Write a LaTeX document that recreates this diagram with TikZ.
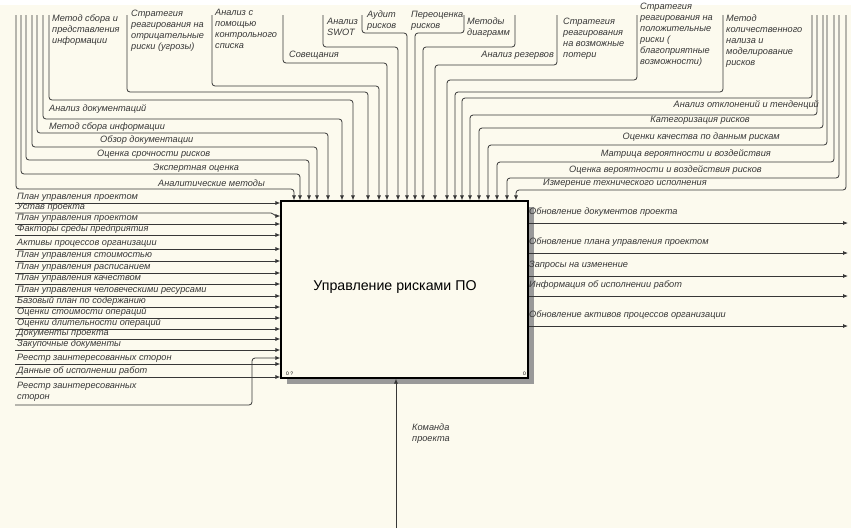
\documentclass[tikz,border=0pt]{standalone}
\usepackage{fontspec}
\setmainfont{Liberation Sans}
\usetikzlibrary{arrows.meta}

\definecolor{paper}{RGB}{252,250,238}
\definecolor{ink}{RGB}{55,55,55}

\tikzset{
  lbl/.style={font=\fontsize{9.2}{11}\selectfont\itshape, text=ink, inner sep=0pt, align=left},
  flow/.style={draw=ink, line width=0.8pt, rounded corners=3pt},
  tip/.style={-{Latex[length=5pt,width=4pt]}},
  fnbox/.style={draw=black, line width=1.1pt, fill=paper, inner sep=0pt,
    minimum width=247pt, minimum height=177pt},
}

\begin{document}
\begin{tikzpicture}[x=1pt,y=-1pt]
\useasboundingbox (0,0) rectangle (851,528);
\fill[paper] (0,0) rectangle (851,528);
\fill[white] (0,0) rectangle (851,5);
%
% activity box with its shadow
\fill[black!40] (287,207) rectangle (534,384);
\node[fnbox] (act) at (404.5,289.5) {};
\node[font=\fontsize{14.2}{16}\selectfont] (ttl) at (395,287) {Управление рисками ПО};
\node[font=\fontsize{5}{5}\selectfont, anchor=south west, inner sep=0pt] (nl) at (286,376) {0 ?};
\node[font=\fontsize{5}{5}\selectfont, anchor=south east, inner sep=0pt] (nr) at (526,376) {0};
%
% controls
\foreach \i/\sx/\hy/\ex in {1/16/189/294, 2/21/174/300, 3/26/160/309, 4/32/147/317,
    5/37/133/328, 6/43/119/342, 7/49/100/353, 8/127/92/368, 9/212/86/379,
    10/283/63/387, 11/323/47/398, 12/362/33/407, 13/464/33/415, 14/515/47/423,
    15/557/65/435, 16/637/80/447, 17/723/92/455, 18/812/98/462, 19/817/115/470,
    20/823/128/479, 21/827/145/488, 22/834/162/497, 23/839/178/507, 24/846/190/516}{
  \coordinate (c\i) at (\sx,15);
  \draw[flow, tip] (c\i) -- (\sx,\hy) -- (\ex,\hy) -- (\ex,0 |- act.north);
}
%
\node[lbl, anchor=north west] (tA) at (52,15) {Метод сбора и\\представления\\информации};
\node[lbl, anchor=north west] (tB) at (131,10) {Стратегия\\реагирования на\\отрицательные\\риски (угрозы)};
\node[lbl, anchor=north west] (tC) at (215,9) {Анализ с\\помощью\\контрольного\\списка};
\node[lbl, anchor=west] (tD) at (289,55) {Совещания};
\node[lbl, anchor=north west] (tE) at (327,18) {Анализ\\SWOT};
\node[lbl, anchor=north west] (tF) at (367,11) {Аудит\\рисков};
\node[lbl, anchor=north west] (tG) at (411,11) {Переоценка\\рисков};
\node[lbl, anchor=north west] (tH) at (467,18) {Методы\\диаграмм};
\node[lbl, anchor=east] (tI) at (554,55) {Анализ резервов};
\node[lbl, anchor=north west] (tJ) at (563,18) {Стратегия\\реагирования\\на возможные\\потери};
\node[lbl, anchor=north west] (tK) at (640,3) {Стратегия\\реагирования на\\положительные\\риски (\\благоприятные\\возможности)};
\node[lbl, anchor=north west] (tL) at (726,15) {Метод\\количественного\\нализа и\\моделирование\\рисков};
%
\node[lbl, anchor=west] (lA) at (49,109) {Анализ документаций};
\node[lbl, anchor=west] (lB) at (49,127) {Метод сбора информации};
\node[lbl, anchor=west] (lC) at (100,140) {Обзор документации};
\node[lbl, anchor=west] (lD) at (97,154) {Оценка срочности рисков};
\node[lbl, anchor=west] (lE) at (153,168) {Экспертная оценка};
\node[lbl, anchor=west] (lF) at (158,183) {Аналитические методы};
%
\node[lbl, anchor=east] (rA) at (819,105) {Анализ отклонений и тенденций};
\node[lbl, anchor=east] (rB) at (750,120) {Категоризация рисков};
\node[lbl, anchor=east] (rC) at (780,137) {Оценки качества по данным рискам};
\node[lbl, anchor=east] (rD) at (771,154) {Матрица вероятности и воздействия};
\node[lbl, anchor=east] (rE) at (762,170) {Оценка вероятности и воздействия рисков};
\node[lbl, anchor=west] (rF) at (543,183) {Измерение технического исполнения};
%
% inputs
\foreach \y/\txt in {203/План управления проектом, 224/План управления проектом,
    235/Факторы среды предприятия, 249/Активы процессов организации,
    261/План управления стоимостью, 273/План управления расписанием,
    284/План управления качеством, 296/План управления человеческими ресурсами,
    307/Базовый план по содержанию, 318/Оценки стоимости операций,
    329/Оценки длительности операций, 339/Документы проекта,
    350/Закупочные документы, 364/Реестр заинтересованных сторон,
    377/Данные об исполнении работ}{
  \coordinate (i\y) at (15,\y);
  \draw[flow, tip] (i\y) -- (act.west |- 0,\y);
  \node[lbl, anchor=south west] (li\y) at (17,\y-1.5) {\txt};
}
\coordinate (iUst) at (15,213);
\draw[flow, tip] (iUst) -- (268,213) to[out=0,in=180] (act.west |- 0,216);
\node[lbl, anchor=south west] (liUst) at (17,212) {Устав проекта};
\coordinate (iReg) at (15,405);
\draw[flow, tip] (iReg) -- (252,405) -- (252,358) -- (act.west |- 0,358);
\node[lbl, anchor=north west] (liReg) at (17,382) {Реестр заинтересованных\\сторон};
%
% outputs
\foreach \y/\txt in {223/Обновление документов проекта,
    253/Обновление плана управления проектом, 276/Запросы на изменение,
    296/Информация об исполнении работ, 326/Обновление активов процессов организации}{
  \coordinate (o\y) at (848,\y);
  \draw[flow, tip] (act.east |- 0,\y) -- (o\y);
  \node[lbl, anchor=south west] (lo\y) at (529,\y-6) {\txt};
}
%
% mechanism
\coordinate (mech) at (396,528);
\draw[flow, tip] (mech) -- (mech |- act.south);
\node[lbl, anchor=north west] (lm) at (412,424) {Команда\\проекта};
\end{tikzpicture}
\end{document}
